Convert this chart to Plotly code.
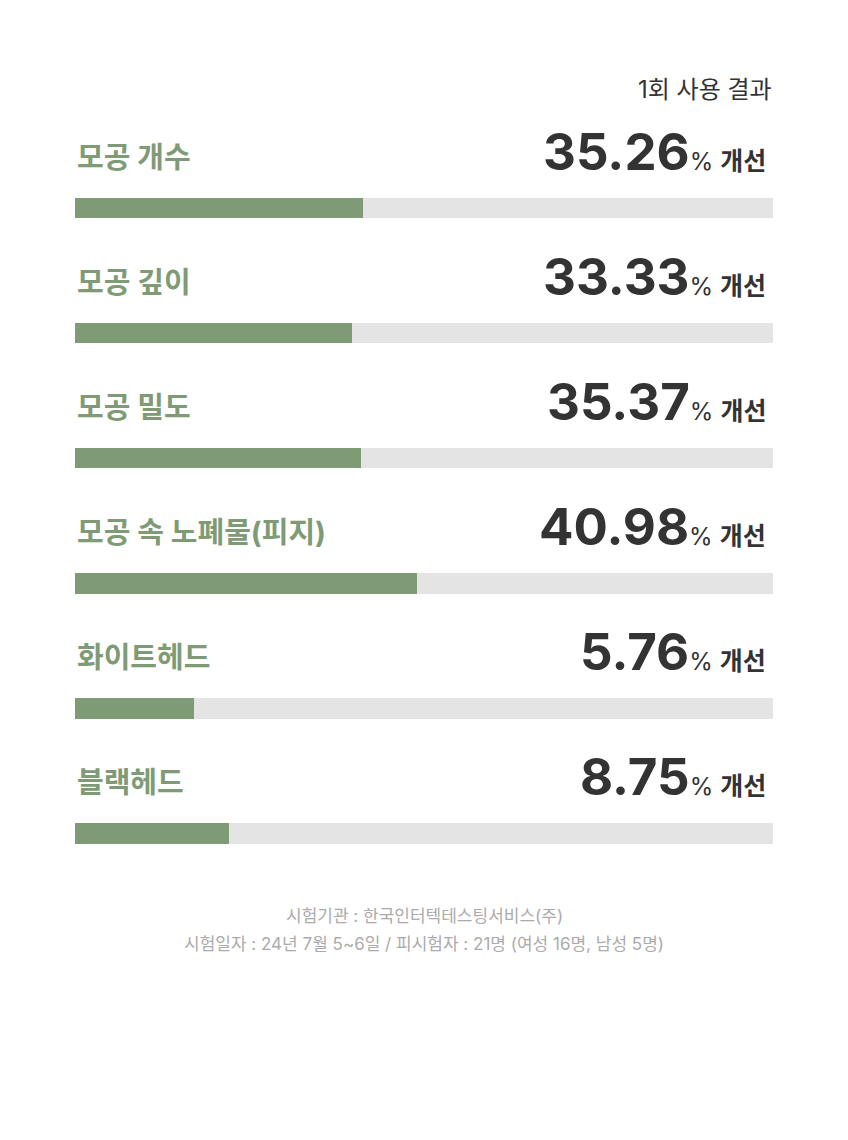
import plotly.graph_objects as go

# 항목 / 개선율 / 막대 길이(트랙 대비 %)
categories = ["모공 개수", "모공 깊이", "모공 밀도", "모공 속 노폐물(피지)", "화이트헤드", "블랙헤드"]
improvement = [35.26, 33.33, 35.37, 40.98, 5.76, 8.75]
bar_fill = [41.3, 39.7, 40.9, 48.9, 17.1, 22.1]
track = [100] * len(categories)

header = "1회 사용 결과"
footer = [
    "시험기관 : 한국인터텍테스팅서비스(주)",
    "시험일자 : 24년 7월 5~6일 / 피시험자 : 21명 (여성 16명, 남성 5명)",
]

GREEN = "#7f9b76"
TRACK = "#e4e4e4"
DARK = "#333333"
GREY = "#ababab"
KR = "Inter, Noto Sans CJK KR"
OFF = 8  # 페이지 기본 여백 보정

rows = list(range(len(categories)))

fig = go.Figure()
fig.add_trace(go.Bar(
    x=track, y=rows, orientation="h", width=0.164,
    marker=dict(color=TRACK, line=dict(width=0)), hoverinfo="skip"
))
fig.add_trace(go.Bar(
    x=bar_fill, y=rows, orientation="h", width=0.164,
    marker=dict(color=GREEN, line=dict(width=0)), hoverinfo="skip"
))

annotations = []
for i, (name, val) in enumerate(zip(categories, improvement)):
    annotations.append(dict(
        xref="paper", yref="y", x=(75 - OFF) / 848, y=i, xanchor="left", yanchor="middle",
        yshift=51, text="<b>%s</b>" % name, showarrow=False,
        font=dict(family=KR, size=29, color=GREEN)
    ))
    annotations.append(dict(
        xref="x", yref="y", x=100, y=i, xanchor="right", yanchor="middle",
        xshift=-5, yshift=57,
        text="<b>%.2f</b><span style='font-size:24px'>%%</span>"
             "<span style='font-size:25px'> <b>개선</b></span>" % val,
        showarrow=False, font=dict(family=KR, size=51, color=DARK)
    ))

annotations.append(dict(
    xref="paper", yref="paper", x=(774 - OFF) / 848, y=1 - (89 - OFF) / 1140,
    xanchor="right", yanchor="middle", text=header, showarrow=False,
    font=dict(family=KR, size=24, color=DARK)
))
for k, line in enumerate(footer):
    annotations.append(dict(
        xref="paper", yref="paper", x=(424 - OFF) / 848, y=1 - (916 - OFF + 28 * k) / 1140,
        xanchor="center", yanchor="middle", text=line, showarrow=False,
        font=dict(family=KR, size=17, color=GREY)
    ))

fig.update_layout(
    width=848, height=1140,
    margin=dict(l=0, r=0, t=0, b=0),
    barmode="overlay", bargap=0,
    showlegend=False,
    paper_bgcolor="white", plot_bgcolor="white",
    xaxis=dict(domain=[(74.5 - OFF) / 848, (773 - OFF) / 848], range=[0, 100],
               visible=False, fixedrange=True),
    yaxis=dict(range=[7.515, -1.599], visible=False, fixedrange=True),
    annotations=annotations,
)

fig.write_html("out.html")
